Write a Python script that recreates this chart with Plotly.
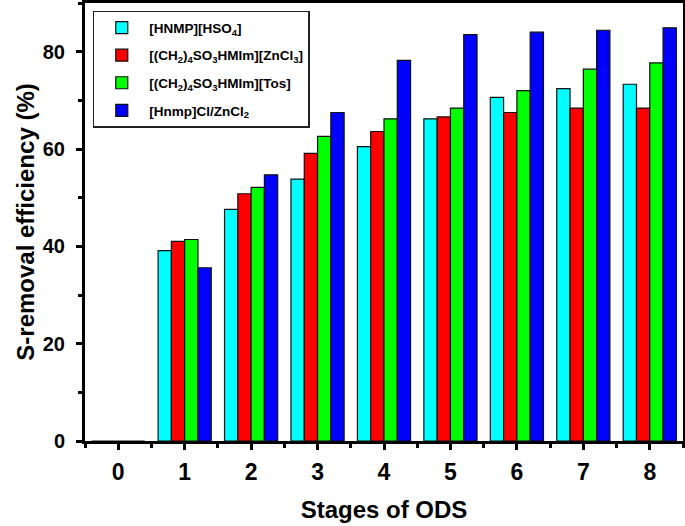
import plotly.graph_objects as go

stages = [0, 1, 2, 3, 4, 5, 6, 7, 8]
hnmp_hso4 = [0, 39.1, 47.6, 53.8, 60.5, 66.2, 70.6, 72.4, 73.3]
ch2_zncl3 = [0, 41.0, 50.8, 59.1, 63.6, 66.6, 67.5, 68.4, 68.4]
ch2_tos = [0, 41.4, 52.1, 62.6, 66.2, 68.4, 72.0, 76.4, 77.7]
hnmp_zncl2 = [0, 35.6, 54.7, 67.5, 78.2, 83.5, 84.0, 84.4, 84.9]
y_ticks = [0, 20, 40, 60, 80]

series_names = [
    "[HNMP][HSO<sub>4</sub>]",
    "[(CH<sub>2</sub>)<sub>4</sub>SO<sub>3</sub>HMIm][ZnCl<sub>3</sub>]",
    "[(CH<sub>2</sub>)<sub>4</sub>SO<sub>3</sub>HMIm][Tos]",
    "[Hnmp]Cl/ZnCl<sub>2</sub>",
]
series_values = [hnmp_hso4, ch2_zncl3, ch2_tos, hnmp_zncl2]
series_colors = ["#00FFFF", "#FF0000", "#00FF00", "#0000FF"]

fig = go.Figure()
for i, (name, vals, col) in enumerate(zip(series_names, series_values, series_colors)):
    fig.add_trace(go.Bar(
        x=stages, y=vals, name=name, legendgroup=f"g{i}",
        marker=dict(color=col, line=dict(color="#111111", width=1.2)),
    ))

font_family = "Arial, Liberation Sans, sans-serif"
fig.update_layout(
    width=685, height=526,
    margin=dict(l=85, r=2, t=3, b=85),
    paper_bgcolor="white", plot_bgcolor="white",
    barmode="group", bargap=0.2, bargroupgap=0,
    font=dict(family=font_family, color="black"),
    showlegend=True,
    legend=dict(
        x=0.013, y=0.982, xanchor="left", yanchor="top",
        bgcolor="white", bordercolor="#222222", borderwidth=1.5,
        font=dict(size=13.5, family=font_family, weight="bold"),
        tracegroupgap=7, itemwidth=45,
    ),
)
fig.update_xaxes(
    range=[-0.5, 8.5], tickmode="array", tickvals=stages,
    ticktext=[str(s) for s in stages],
    showgrid=False, zeroline=False, automargin=False,
    showline=True, linecolor="black", linewidth=3, mirror=True,
    ticks="outside", ticklen=6, tickwidth=2.5, tickcolor="black",
    minor=dict(ticks="outside", ticklen=4, tickwidth=2.5, tickcolor="black", dtick=0.5, tick0=0.5),
    tickfont=dict(size=23, family=font_family, weight="bold"),
    ticklabelstandoff=2,
    title=dict(text="Stages of ODS", font=dict(size=24, family=font_family, weight="bold"), standoff=18),
)
fig.update_yaxes(
    range=[0, 90], tickmode="array", tickvals=y_ticks,
    showgrid=False, zeroline=False, automargin=False,
    showline=True, linecolor="black", linewidth=3, mirror=True,
    ticks="outside", ticklen=6, tickwidth=2.5, tickcolor="black",
    minor=dict(ticks="outside", ticklen=4, tickwidth=2.5, tickcolor="black", dtick=10, tick0=10),
    tickfont=dict(size=20, family=font_family, weight="bold"),
    ticklabelstandoff=7,
    title=dict(text="S-removal efficiency (%)", font=dict(size=24, family=font_family, weight="bold"), standoff=2),
)

fig.write_html(
    "out.html",
    config={"displayModeBar": False},
    post_script="document.body.style.margin='0';document.body.style.overflow='hidden';",
)
